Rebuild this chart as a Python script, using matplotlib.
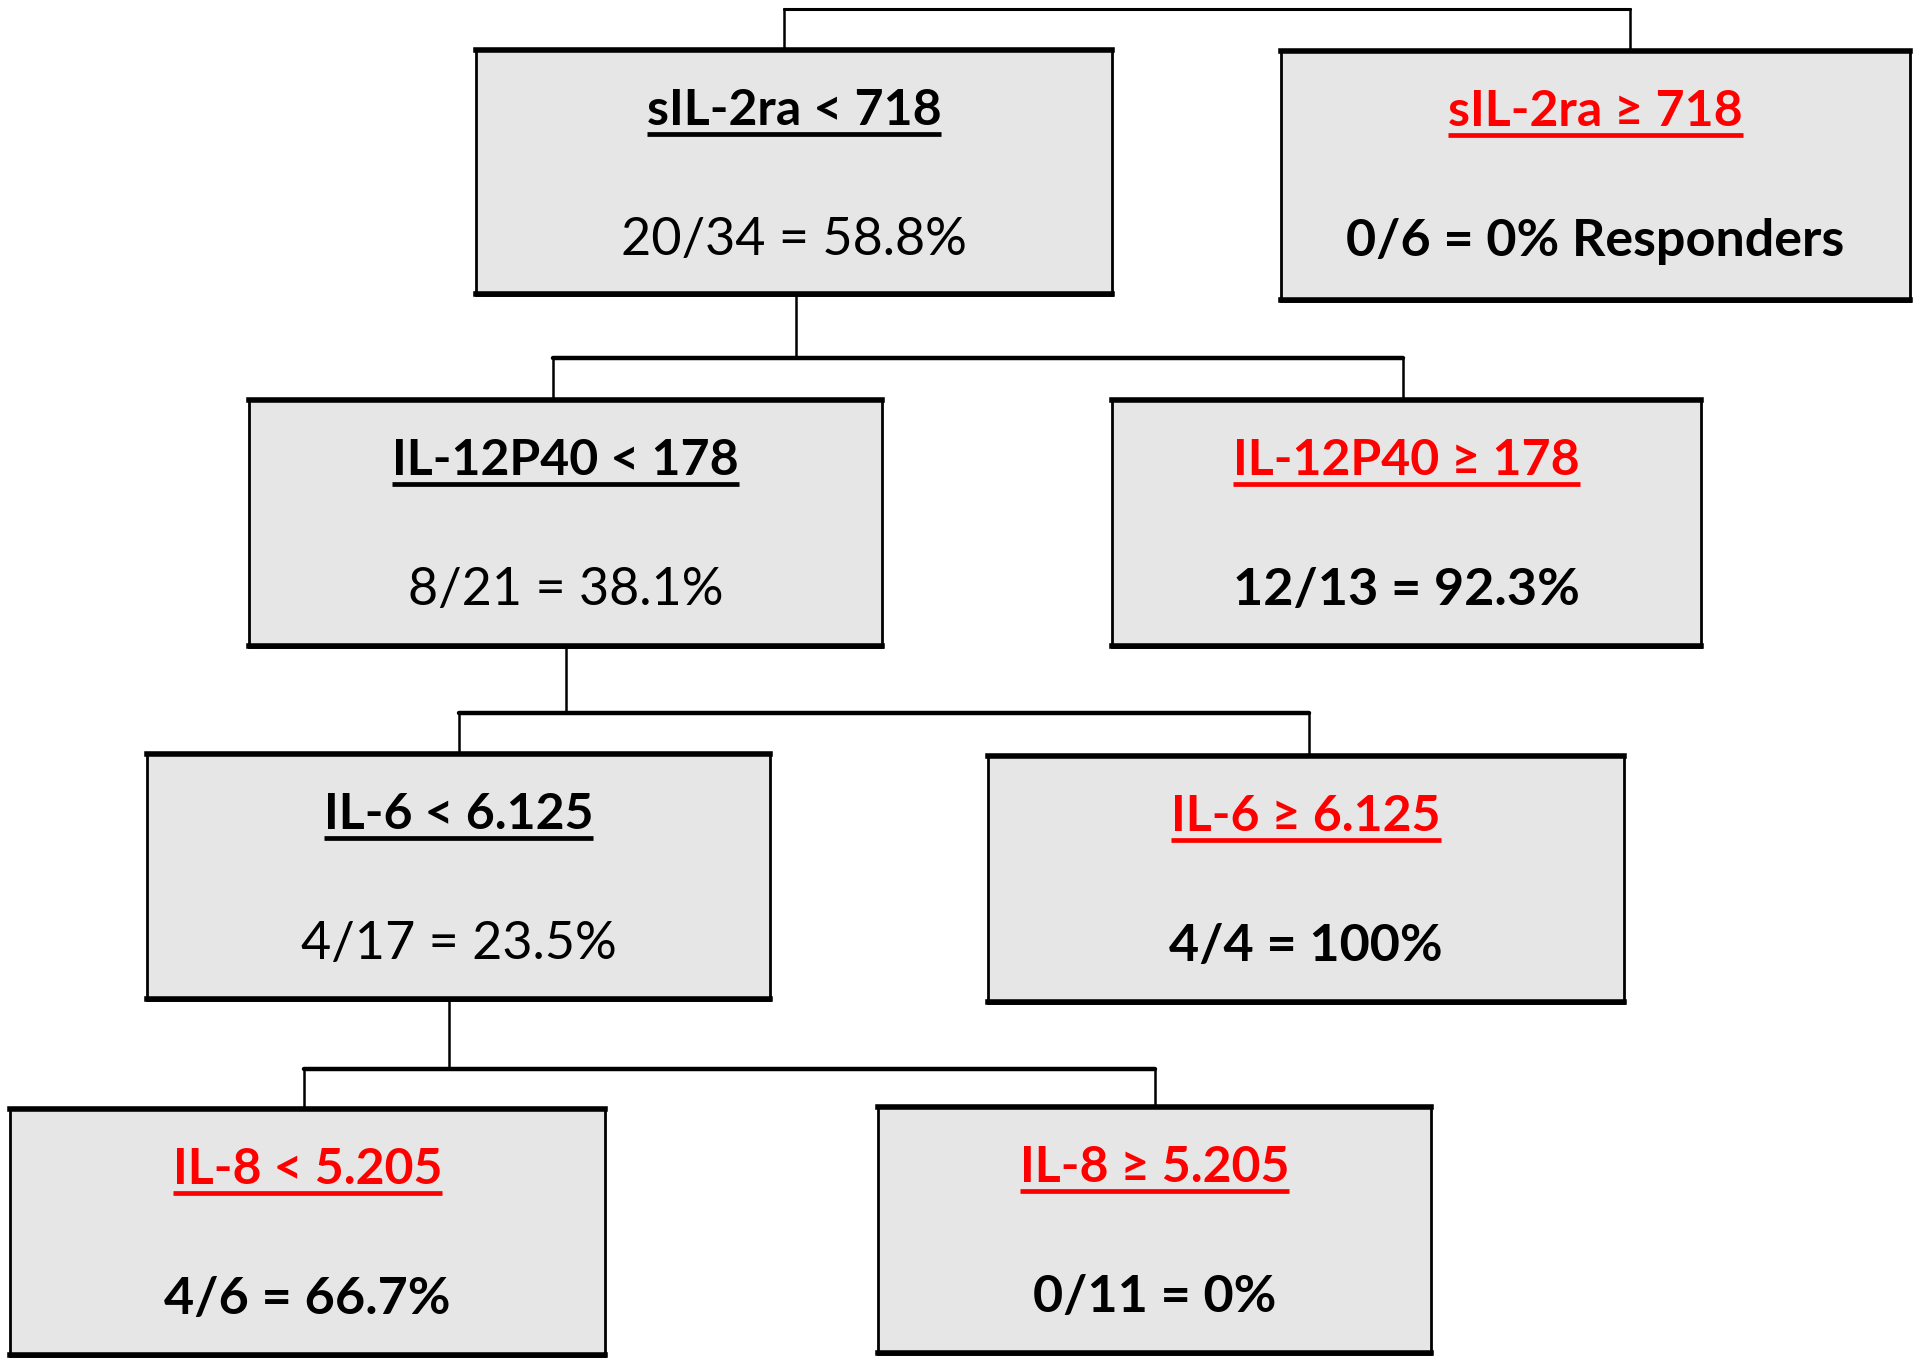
import matplotlib
matplotlib.use("Agg")
import matplotlib.pyplot as plt
from matplotlib.patches import Rectangle

plt.rcParams['font.family'] = ['Lato', 'DejaVu Sans']

# node data (split variable, operator, threshold, responders, total)
markers = ["sIL-2ra", "sIL-2ra", "IL-12P40", "IL-12P40", "IL-6", "IL-6", "IL-8", "IL-8"]
operators = ["<", "≥", "<", "≥", "<", "≥", "<", "≥"]
thresholds = ["718", "718", "178", "178", "6.125", "6.125", "5.205", "5.205"]
responders = [20, 0, 8, 12, 4, 4, 4, 0]
totals = [34, 6, 21, 13, 17, 4, 6, 11]
suffix = ["", " Responders", "", "", "", "", "", ""]
terminal = [False, True, False, True, False, True, True, True]

# layout (pixel boxes: left, top, right, bottom)
boxes = [(476, 49, 1112, 295), (1281, 50, 1910, 301),
         (249, 399, 882, 647), (1112, 399, 1701, 647),
         (147, 753, 770, 1000), (988, 755, 1624, 1003),
         (10, 1108, 605, 1356), (878, 1106, 1431, 1354)]
# connectors: parent stem x, stem top, bar y, left x, right x, child top (left/right)
links = [(None, None, 9, 784, 1630, 49, 50),
         (796, 295, 358, 553, 1403, 399, 399),
         (566, 647, 713, 459, 1309, 753, 755),
         (449, 1000, 1069, 304, 1155, 1108, 1106)]


def pct(r, n):
    s = f"{100 * r / n:.1f}"
    return s[:-2] if s.endswith(".0") else s


fig = plt.figure(figsize=(19.2, 13.66), dpi=100)
ax = fig.add_axes([0, 0, 1, 1])
ax.set_xlim(0, 1920)
ax.set_ylim(1366, 0)
ax.axis('off')

for stem_x, stem_top, bar_y, lx, rx, lt, rt in links:
    if stem_x is not None:
        ax.plot([stem_x, stem_x], [stem_top, bar_y], color='black', lw=1.8)
    ax.plot([lx, rx], [bar_y, bar_y], color='black', lw=3.2 if stem_x else 2.2,
            solid_capstyle='round')
    ax.plot([lx, lx], [bar_y, lt], color='black', lw=1.8)
    ax.plot([rx, rx], [bar_y, rt], color='black', lw=1.8)

titles = []
for i, (l, t, r, b) in enumerate(boxes):
    ax.add_patch(Rectangle((l, t), r - l, b - t, facecolor='#e6e6e6',
                           edgecolor='black', lw=2.0, zorder=2))
    ax.plot([l, r], [t + 1, t + 1], color='black', lw=4, zorder=3)
    ax.plot([l, r], [b - 1, b - 1], color='black', lw=4, zorder=3)
    cx = (l + r) / 2
    col = 'red' if terminal[i] else 'black'
    tt = ax.text(cx, t + 76, f"{markers[i]} {operators[i]} {thresholds[i]}",
                 ha='center', va='baseline', fontsize=36, fontweight='bold',
                 color=col, zorder=4)
    titles.append((tt, t, col))
    ax.text(cx, t + 206, f"{responders[i]}/{totals[i]} = {pct(responders[i], totals[i])}%{suffix[i]}",
            ha='center', va='baseline', fontsize=37.5,
            fontweight='bold' if terminal[i] else 'normal', color='black', zorder=4)

# underline the split labels
fig.canvas.draw()
inv = ax.transData.inverted()
for tt, t, col in titles:
    bb = tt.get_window_extent()
    (x0, _), (x1, _) = inv.transform([(bb.x0, bb.y0), (bb.x1, bb.y1)])
    ax.plot([x0, x1], [t + 85, t + 85], color=col, lw=3.4, zorder=4, solid_capstyle='butt')

fig.savefig("out.png", dpi=100, facecolor='white')
